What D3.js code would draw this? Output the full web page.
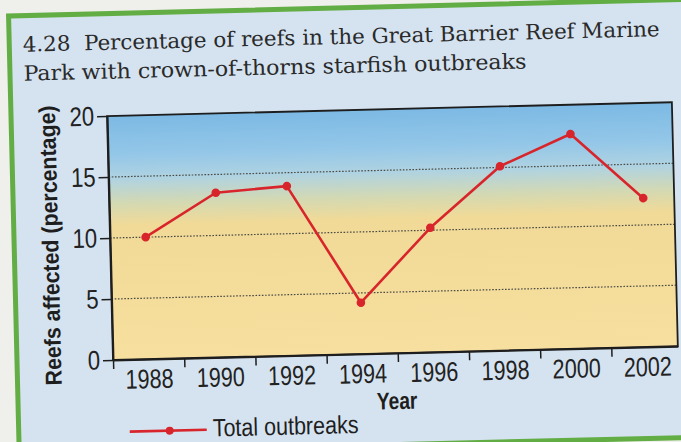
<!DOCTYPE html>
<html><head><meta charset="utf-8">
<script src="https://cdn.jsdelivr.net/npm/d3@7"></script>
<style>html,body{margin:0;padding:0;background:#efefec;overflow:hidden}</style>
</head><body>
<svg id="c" width="681" height="442"></svg>
<script>
const years = [1988, 1990, 1992, 1994, 1996, 1998, 2000, 2002];
const outbreaks = [10.0, 13.5, 13.9, 4.2, 10.2, 15.1, 17.6, 12.2];
const yTicks = [0, 5, 10, 15, 20];
const gridValues = [5, 10, 15];
const tickMarkYears = [1987, 1989, 1991, 1993, 1995, 1997, 1999, 2001];
const titleLines = ["4.28\u00a0 Percentage of reefs in the Great Barrier Reef Marine",
                    "Park with crown-of-thorns starfish outbreaks"];
const yLabel = "Reefs affected (percentage)";
const xLabel = "Year";
const seriesName = "Total outbreaks";

const W = 681, H = 442;
const svg = d3.select("#c");
const RED = "#d8252b";
const SANS = "'Liberation Sans',Arial,sans-serif";

// squeeze text horizontally to mimic a condensed face
function condense(sel, f) {
  sel.each(function () {
    const L = this.getComputedTextLength();
    d3.select(this).attr("textLength", L * f).attr("lengthAdjust", "spacingAndGlyphs");
  });
}

const defs = svg.append("defs");
const grad = defs.append("linearGradient").attr("id", "bg").attr("x1", 0).attr("y1", 0).attr("x2", 0).attr("y2", 1);
[[0, "#7cb9e4"], [0.16, "#94c7e8"], [0.26, "#b0d3e1"], [0.36, "#d4d9b2"], [0.45, "#f1da97"], [1, "#f7df9f"]]
  .forEach(([o, c]) => grad.append("stop").attr("offset", o).attr("stop-color", c));

svg.append("rect").attr("width", W).attr("height", H).attr("fill", "#efefec");
const g = svg.append("g").attr("transform", "rotate(-1.4,113,360)");

// page panel with green border
g.append("rect").attr("x", 17).attr("y", 13.5).attr("width", 720).attr("height", 438)
  .attr("fill", "#d5e3f0").attr("stroke", "#62ad44").attr("stroke-width", 5);

// title
g.selectAll("text.title").data(titleLines).join("text").attr("class", "title")
  .attr("x", 30.5).attr("y", (d, i) => 49.6 + i * 29)
  .attr("font-family", "'DejaVu Serif',serif").attr("font-size", 21).attr("fill", "#2a2a2a")
  .attr("textLength", (d, i) => i === 0 ? 637 : 503).attr("lengthAdjust", "spacingAndGlyphs")
  .text(d => d);

const pl = 113, pt = 116, pw = 565, ph = 244;
const x = d3.scaleLinear().domain([1987, 2002.87]).range([pl, pl + pw]);
const y = d3.scaleLinear().domain([0, 20]).range([pt + ph, pt]);

g.append("rect").attr("x", pl).attr("y", pt).attr("width", pw).attr("height", ph).attr("fill", "url(#bg)");

// gridlines
g.selectAll("line.grid").data(gridValues).join("line").attr("class", "grid")
  .attr("x1", pl).attr("x2", pl + pw).attr("y1", d => y(d)).attr("y2", d => y(d))
  .attr("stroke", "#4a4a44").attr("stroke-width", 1.2).attr("stroke-dasharray", "1.6,1.6");

// frame
g.append("rect").attr("x", pl).attr("y", pt).attr("width", pw).attr("height", ph)
  .attr("fill", "none").attr("stroke", "#1e1e1e").attr("stroke-width", 1.8);

// y axis
const ya = g.append("g").attr("transform", `translate(${pl},0)`)
  .call(d3.axisLeft(y).tickValues(yTicks).tickSize(10).tickSizeOuter(0).tickPadding(3));
ya.select(".domain").attr("stroke", "#1e1e1e").attr("stroke-width", 2);
ya.selectAll(".tick line").attr("stroke", "#1e1e1e").attr("stroke-width", 1.5);
ya.selectAll(".tick text").attr("font-family", SANS).attr("font-size", 27).attr("fill", "#222")
  .call(condense, 0.82);

// x axis: tick marks at band edges, labels at band centres
const xm = g.append("g").attr("transform", `translate(0,${pt + ph})`)
  .call(d3.axisBottom(x).tickValues(tickMarkYears).tickSize(9).tickSizeOuter(0).tickFormat(""));
xm.select(".domain").attr("stroke", "#1e1e1e").attr("stroke-width", 2);
xm.selectAll(".tick line").attr("stroke", "#1e1e1e").attr("stroke-width", 1.5);
const xl = g.append("g").attr("transform", `translate(0,${pt + ph})`)
  .call(d3.axisBottom(x).tickValues(years).tickSize(0).tickPadding(10).tickFormat(d3.format("d")));
xl.select(".domain").remove();
xl.selectAll(".tick text").attr("font-family", SANS).attr("font-size", 27).attr("fill", "#222")
  .call(condense, 0.8);

// axis titles
g.append("text").attr("transform", "translate(53,244) rotate(-90)").attr("text-anchor", "middle")
  .attr("dy", "0.35em").attr("font-family", SANS).attr("font-weight", "bold").attr("font-size", 23)
  .attr("fill", "#1e1e1e").attr("textLength", 280).attr("lengthAdjust", "spacingAndGlyphs").text(yLabel);
g.append("text").attr("x", 396).attr("y", 416).attr("text-anchor", "middle")
  .attr("font-family", SANS).attr("font-weight", "bold").attr("font-size", 24)
  .attr("fill", "#1e1e1e").text(xLabel).call(condense, 0.8);

// series
const line = d3.line().x((d, i) => x(years[i])).y(d => y(d));
g.append("path").datum(outbreaks).attr("d", line).attr("fill", "none")
  .attr("stroke", RED).attr("stroke-width", 2.6).attr("stroke-linejoin", "round");
g.selectAll("circle.pt").data(outbreaks).join("circle").attr("class", "pt")
  .attr("cx", (d, i) => x(years[i])).attr("cy", d => y(d)).attr("r", 4.3).attr("fill", RED);

// legend
g.append("line").attr("x1", 128).attr("x2", 205).attr("y1", 432).attr("y2", 432)
  .attr("stroke", RED).attr("stroke-width", 2.6);
g.append("circle").attr("cx", 168).attr("cy", 432).attr("r", 4).attr("fill", RED);
g.append("text").attr("x", 211).attr("y", 439).attr("font-family", SANS).attr("font-size", 25)
  .attr("fill", "#1e1e1e").text(seriesName).call(condense, 0.86);
</script>
</body></html>
